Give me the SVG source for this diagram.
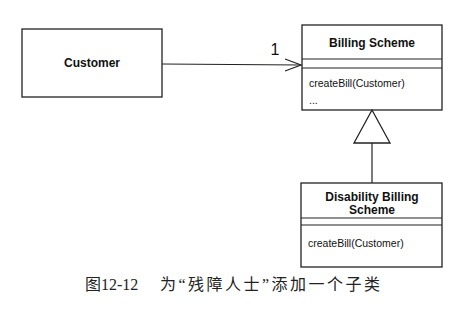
<svg xmlns="http://www.w3.org/2000/svg" width="461" height="311" viewBox="0 0 461 311">
  <style>
    .box { fill: #fff; stroke: #222; stroke-width: 1.3; }
    .div { stroke: #222; stroke-width: 1.1; fill: none; }
    .title { font-family: "Liberation Sans", Arial, sans-serif; font-weight: bold; font-size: 12px; fill: #111; text-anchor: middle; }
    .op { font-family: "Liberation Sans", Arial, sans-serif; font-size: 10.5px; fill: #111; }
    .edge { stroke: #222; stroke-width: 1.2; fill: none; }
    .caption { font-family: "Liberation Serif", "Noto Sans CJK SC", serif; font-size: 16px; fill: #222; }
  </style>
  <rect width="461" height="311" fill="#fff"/>

  <g id="customer">
    <rect class="box" x="22" y="29" width="140" height="68"/>
    <text class="title" x="92" y="67">Customer</text>
  </g>

  <g id="billing-scheme">
    <rect class="box" x="302" y="25" width="140" height="85"/>
    <text class="title" x="372" y="47">Billing Scheme</text>
    <line class="div" x1="302" y1="59" x2="442" y2="59"/>
    <line class="div" x1="302" y1="68" x2="442" y2="68"/>
    <text class="op" x="309" y="87">createBill(Customer)</text>
    <text class="op" x="309" y="104">...</text>
  </g>

  <g id="disability-billing-scheme">
    <rect class="box" x="301" y="183" width="141" height="84"/>
    <text class="title" x="372" y="201">Disability Billing</text>
    <text class="title" x="372" y="214">Scheme</text>
    <line class="div" x1="301" y1="218" x2="442" y2="218"/>
    <line class="div" x1="301" y1="225" x2="442" y2="225"/>
    <text class="op" x="308" y="247">createBill(Customer)</text>
  </g>

  <g id="connectors">
    <!-- association with open arrowhead and multiplicity -->
    <line class="edge" x1="162" y1="64" x2="301" y2="65"/>
    <polyline class="edge" points="285,59 301,65 285,71"/>
    <text x="275" y="55" font-family="Liberation Sans, Arial, sans-serif" font-size="16" fill="#111" text-anchor="middle">1</text>
    <!-- generalization -->
    <polygon points="372,110 354,143 390,143" fill="#fff" stroke="#222" stroke-width="1.3"/>
    <line class="edge" x1="372" y1="143" x2="372" y2="183"/>
  </g>

  <g id="caption">
    <text class="caption" x="85" y="290">图12-12</text>
    <text class="caption" x="160" y="290" textLength="220" lengthAdjust="spacing">为“残障人士”添加一个子类</text>
  </g>
</svg>
